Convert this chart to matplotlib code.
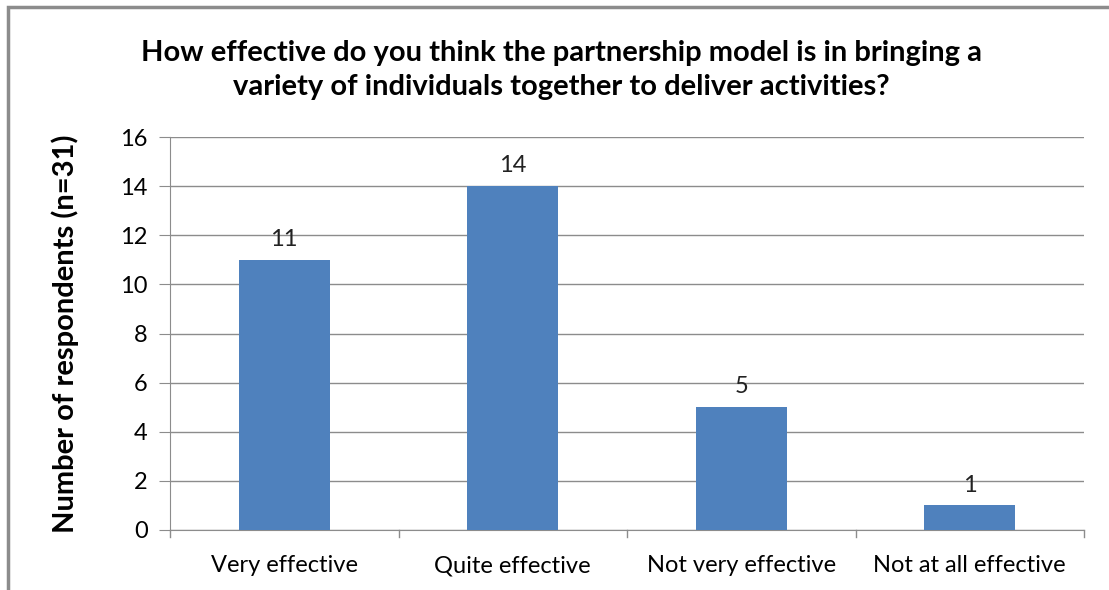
import matplotlib.pyplot as plt
from matplotlib.patches import Rectangle

plt.rcParams['font.family'] = ['Lato', 'DejaVu Sans']

categories = ['Very effective', 'Quite effective', 'Not very effective', 'Not at all effective']
counts = [11, 14, 5, 1]
yticks = [0, 2, 4, 6, 8, 10, 12, 14, 16]

fig = plt.figure(figsize=(11.09, 5.90), dpi=100)
ax = fig.add_axes([170 / 1109, 60 / 590, 914 / 1109, 393 / 590])

bar_color = '#4F81BD'
grid_color = '#8C8C8C'

x = list(range(len(categories)))
bars = ax.bar(x, counts, width=0.4, color=bar_color, zorder=3)
for xi, v in zip(x, counts):
    ax.text(xi, v + 0.4, str(v), ha='center', va='bottom', fontsize=17, color='#222222')

ax.set_xlim(-0.5, len(categories) - 0.5)
ax.set_ylim(0, 16)
ax.set_yticks(yticks)
ax.set_yticklabels([str(t) for t in yticks], fontsize=17)
ax.yaxis.grid(True, color=grid_color, linewidth=1, zorder=0)

# category labels, tick marks sit on category boundaries
ax.set_xticks(x)
ax.set_xticklabels(categories, fontsize=17)
ax.tick_params(axis='x', length=0, pad=18)
for b in [-0.5, 0.5, 1.5, 2.5, 3.5]:
    ax.plot([b, b], [0, -0.3], color=grid_color, linewidth=1, clip_on=False)
ax.tick_params(axis='y', length=8, color=grid_color, pad=8)

for side in ['top', 'right']:
    ax.spines[side].set_visible(False)
ax.spines['left'].set_color(grid_color)
ax.spines['bottom'].set_color(grid_color)

ax.set_ylabel('Number of respondents (n=31)', fontsize=21, fontweight='bold', labelpad=30)
fig.text(0.506, 0.882, 'How effective do you think the partnership model is in bringing a\n'
         'variety of individuals together to deliver activities?',
         ha='center', va='center', fontsize=21, fontweight='bold', linespacing=1.38)

# chart border
fig.patches.append(Rectangle((8 / 1109, -0.1), 1.2, 1.1 - 7 / 590,
                             transform=fig.transFigure, fill=False,
                             edgecolor='#8C8C8C', linewidth=2.5))

fig.savefig('out.png', dpi=100)
